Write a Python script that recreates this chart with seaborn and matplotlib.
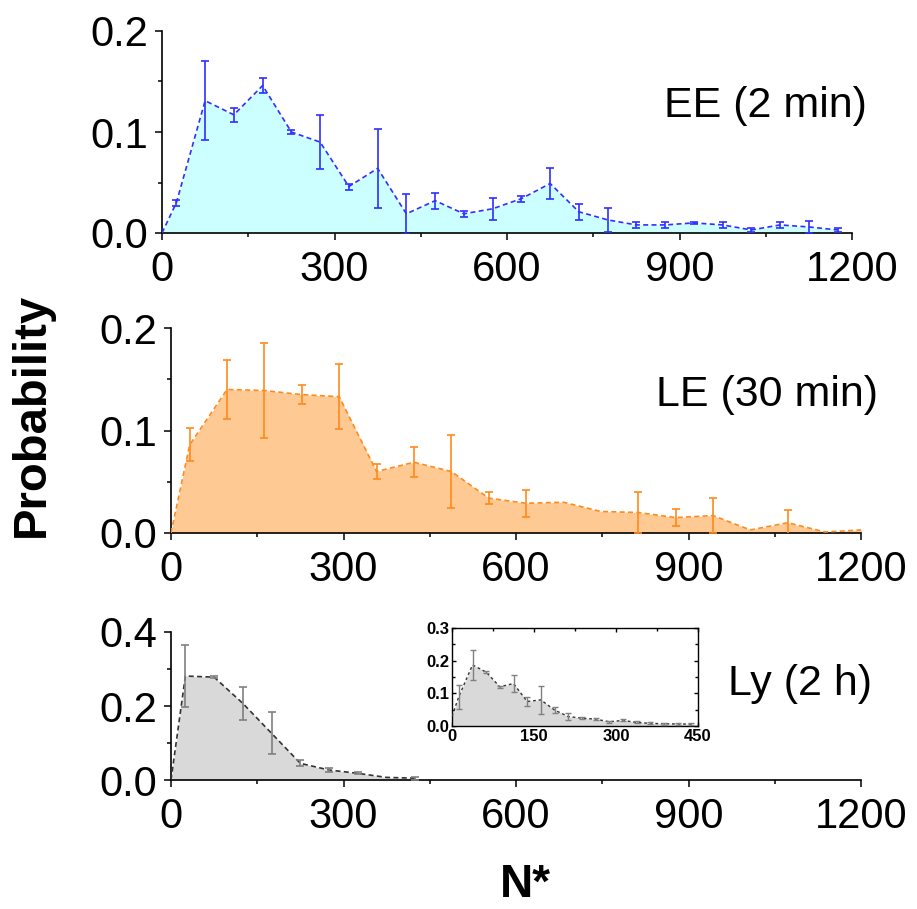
import numpy as np
import seaborn as sns
import matplotlib.pyplot as plt
from matplotlib.ticker import MultipleLocator

# EE (2 min)
ee_n = [0, 25, 75, 125, 175, 225, 275, 325, 375, 425, 475, 525, 575, 625, 675,
        725, 775, 825, 875, 925, 975, 1025, 1075, 1125, 1175]
ee_p = [0, 0.030, 0.131, 0.117, 0.146, 0.100, 0.090, 0.046, 0.064, 0.019, 0.032,
        0.019, 0.024, 0.034, 0.049, 0.021, 0.013, 0.008, 0.008, 0.010, 0.008,
        0.003, 0.008, 0.006, 0.003]
ee_err = [0, 0.003, 0.039, 0.007, 0.007, 0.002, 0.027, 0.003, 0.039, 0.020, 0.008,
          0.003, 0.011, 0.003, 0.015, 0.008, 0.012, 0.003, 0.003, 0.001, 0.003,
          0.002, 0.003, 0.006, 0.002]

# LE (30 min)
le_n = [0, 32.5, 97.5, 162.5, 227.5, 292.5, 357.5, 422.5, 487.5, 552.5, 617.5,
        682.5, 747.5, 812.5, 877.5, 942.5, 1007.5, 1072.5, 1137.5, 1202.5]
le_p = [0, 0.086, 0.140, 0.139, 0.135, 0.133, 0.060, 0.069, 0.060, 0.034, 0.029,
        0.030, 0.021, 0.020, 0.015, 0.017, 0.003, 0.010, 0.001, 0.003]
le_err = [0, 0.016, 0.029, 0.046, 0.009, 0.032, 0.007, 0.0145, 0.036, 0.006, 0.0134,
          0, 0, 0.020, 0.008, 0.017, 0, 0.012, 0, 0]

# Ly (2 h)
ly_n = [0, 25, 75, 125, 175, 225, 275, 325, 375, 425]
ly_p = [0, 0.281, 0.278, 0.207, 0.126, 0.045, 0.027, 0.018, 0.007, 0.005]
ly_err = [0, 0.083, 0.003, 0.045, 0.057, 0.008, 0.006, 0.003, 0, 0.004]

# inset, 25-wide bins
in_n = [0, 12.5, 37.5, 62.5, 87.5, 112.5, 137.5, 162.5, 187.5, 212.5, 237.5,
        262.5, 287.5, 312.5, 337.5, 362.5, 387.5, 412.5, 437.5]
in_p = [0.03, 0.090, 0.187, 0.165, 0.120, 0.130, 0.075, 0.080, 0.049, 0.029, 0.024,
        0.021, 0.013, 0.017, 0.011, 0.008, 0.007, 0.006, 0.006]
in_err = [0, 0.037, 0.046, 0.003, 0.003, 0.025, 0.013, 0.043, 0.010, 0.010, 0.003,
          0.003, 0.003, 0.003, 0.003, 0.003, 0.003, 0.003, 0.003]

sns.set_theme(style="ticks")
plt.rcParams['font.family'] = ['Liberation Sans', 'DejaVu Sans']
plt.rcParams['axes.linewidth'] = 1.2
for k in ['text.color', 'axes.labelcolor', 'xtick.color', 'ytick.color',
          'axes.edgecolor']:
    plt.rcParams[k] = 'black'

fig = plt.figure(figsize=(9.17, 9.09), dpi=100)
W, H = 917, 909


def px_axes(l, t, r, b):
    return fig.add_axes([l / W, 1 - b / H, (r - l) / W, (b - t) / H])


def panel(ax, n, p, err, line_c, fill_c, err_c, ymax, ystep, label, lx, ly, lw=1.2):
    n = np.array(n); p = np.array(p); err = np.array(err)
    ax.fill_between(n, p, 0, color=fill_c, linewidth=0, zorder=1)
    sns.lineplot(x=n, y=p, ax=ax, color=line_c, linestyle=(0, (3, 2)),
                 linewidth=lw, zorder=3)
    m = err > 0
    ax.errorbar(n[m], p[m], yerr=err[m], fmt='none', ecolor=err_c,
                elinewidth=1.2, capsize=3, capthick=1.2, zorder=4)
    ax.set_xlim(0, 1200)
    ax.set_ylim(0, ymax)
    ax.xaxis.set_major_locator(MultipleLocator(300))
    ax.xaxis.set_minor_locator(MultipleLocator(150))
    ax.yaxis.set_major_locator(MultipleLocator(ystep))
    ax.yaxis.set_minor_locator(MultipleLocator(ystep / 2))
    ax.yaxis.set_major_formatter(plt.FormatStrFormatter('%.1f'))
    ax.tick_params(which='major', direction='out', length=5, width=1.1,
                   labelsize=30, pad=5, colors='black')
    ax.tick_params(which='minor', direction='out', length=3, width=1.1)
    ax.tick_params(axis='x', which='major', pad=7)
    ax.set_xlabel('')
    ax.set_ylabel('')
    sns.despine(ax=ax)
    ax.set_facecolor('none')
    ax.text(lx, ly, label, transform=ax.transAxes, ha='right', va='baseline',
            fontsize=31, color='black')


ax1 = px_axes(162, 31, 852, 233)
panel(ax1, ee_n, ee_p, ee_err, '#2f2fff', '#ccffff', '#2f2fff', 0.2, 0.1,
      'EE (2 min)', 1.021, 0.574)

ax2 = px_axes(171, 328, 861, 533)
panel(ax2, le_n, le_p, le_err, '#ff8a1c', '#ffc993', '#ff8a1c', 0.2, 0.1,
      'LE (30 min)', 1.025, 0.618)

ax3 = px_axes(171, 632, 861, 780)
panel(ax3, ly_n, ly_p, ly_err, '#333333', '#d9d9d9', '#808080', 0.4, 0.2,
      'Ly (2 h)', 1.0155, 0.573)

# inset
axi = px_axes(452, 628, 698, 726)
n = np.array(in_n); p = np.array(in_p); e = np.array(in_err)
axi.fill_between(n, p, 0, color='#d9d9d9', linewidth=0, zorder=1)
sns.lineplot(x=n, y=p, ax=axi, color='#333333', linestyle=(0, (2, 2)),
             linewidth=1.0, zorder=3)
m = e > 0
axi.errorbar(n[m], p[m], yerr=e[m], fmt='none', ecolor='#808080',
             elinewidth=1.0, capsize=2, capthick=1.0, zorder=4)
axi.set_xlim(0, 450)
axi.set_ylim(0, 0.3)
axi.xaxis.set_major_locator(MultipleLocator(150))
axi.xaxis.set_minor_locator(MultipleLocator(75))
axi.yaxis.set_major_locator(MultipleLocator(0.1))
axi.yaxis.set_minor_locator(MultipleLocator(0.05))
axi.yaxis.set_major_formatter(plt.FormatStrFormatter('%.1f'))
axi.tick_params(which='both', direction='in', top=True, right=True, width=1,
                labelsize=12, pad=2)
axi.tick_params(which='major', length=3)
axi.tick_params(which='minor', length=2)
for lab in axi.get_xticklabels() + axi.get_yticklabels():
    lab.set_fontweight('bold')
axi.set_xlabel('')
axi.set_ylabel('')
for s in axi.spines.values():
    s.set_linewidth(1.0)

fig.text(32 / W, 1 - 415 / H, 'Probability', rotation=90, ha='center',
         va='center', fontsize=34, fontweight='bold')
fig.text(525 / W, 1 - 907 / H, 'N*', ha='center', va='bottom',
         fontsize=33, fontweight='bold')

fig.savefig('out.png', dpi=100)
